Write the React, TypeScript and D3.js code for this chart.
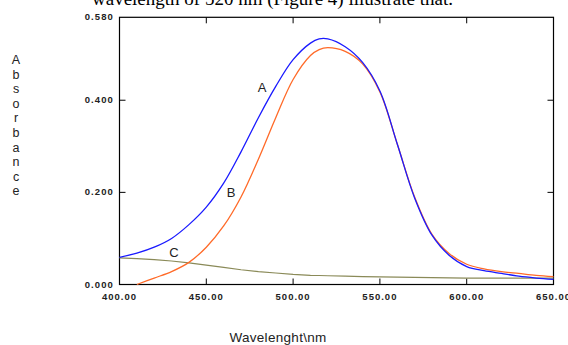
import React from 'react';
import * as d3 from 'd3';

// Spectra (absorbance vs wavelength, nm)
const wavelengths = [400, 410, 420, 430, 440, 450, 460, 470, 480, 490, 500, 510, 515, 520, 530, 540, 550, 560, 570, 580, 590, 600, 610, 620, 630, 640, 650];
const absA = [0.059, 0.068, 0.081, 0.100, 0.130, 0.168, 0.220, 0.288, 0.362, 0.430, 0.488, 0.524, 0.533, 0.533, 0.516, 0.482, 0.420, 0.305, 0.188, 0.107, 0.063, 0.039, 0.030, 0.024, 0.018, 0.014, 0.011];
const absB = [null, 0.0, 0.014, 0.028, 0.048, 0.081, 0.127, 0.190, 0.272, 0.362, 0.445, 0.497, 0.510, 0.514, 0.506, 0.479, 0.418, 0.305, 0.190, 0.109, 0.067, 0.044, 0.034, 0.028, 0.024, 0.020, 0.017];
const absC = [0.058, 0.056, 0.054, 0.051, 0.047, 0.042, 0.037, 0.032, 0.028, 0.025, 0.022, 0.020, 0.0195, 0.019, 0.018, 0.017, 0.0165, 0.016, 0.0155, 0.015, 0.0145, 0.014, 0.014, 0.014, 0.014, 0.014, 0.014];

const xTicks = [400, 450, 500, 550, 600, 650];
const yTicks = [0, 0.2, 0.4, 0.58];
const yTitle = 'Absorbance';

export default function App() {
  const width = 568;
  const height = 345;
  const left = 119.5, right = 553.5, top = 17.3, bottom = 284.5;

  const x = d3.scaleLinear().domain([400, 650]).range([left, right]);
  const y = d3.scaleLinear().domain([0, 0.58]).range([bottom, top]);

  const makeLine = (vals, curve) => {
    const pts = wavelengths.map((w, i) => [w, vals[i]]).filter(p => p[1] !== null);
    return d3.line().x(d => x(d[0])).y(d => y(d[1])).curve(curve)(pts);
  };

  const sans = 'Arial, "Liberation Sans", sans-serif';

  return (
    <svg width={width} height={height} style={{ position: 'absolute', left: 0, top: 0, background: '#fff' }}>
      {/* clipped text line from the surrounding document */}
      <text x={92} y={5} fontFamily='"Times New Roman", "Liberation Serif", serif' fontSize={19} fill="#000">
        wavelength of 520 nm (Figure 4) illustrate that.
      </text>

      {/* frame */}
      <rect x={left} y={top} width={right - left} height={bottom - top} fill="none" stroke="#000" strokeWidth={1.2} />

      {/* ticks, pointing inward on all four sides */}
      {xTicks.slice(1, -1).map(t => (
        <g key={'xt' + t}>
          <line x1={x(t)} x2={x(t)} y1={bottom} y2={bottom - 6} stroke="#000" strokeWidth={1} />
          <line x1={x(t)} x2={x(t)} y1={top} y2={top + 6} stroke="#000" strokeWidth={1} />
        </g>
      ))}
      {yTicks.slice(1, -1).map(t => (
        <g key={'yt' + t}>
          <line x1={left} x2={left + 6} y1={y(t)} y2={y(t)} stroke="#000" strokeWidth={1} />
          <line x1={right} x2={right - 6} y1={y(t)} y2={y(t)} stroke="#000" strokeWidth={1} />
        </g>
      ))}

      {/* tick labels */}
      {xTicks.map(t => (
        <text key={'xl' + t} x={x(t)} y={300} textAnchor="middle" fontFamily={sans} fontSize={9.5} fontWeight="bold" letterSpacing={1} fill="#222">
          {t.toFixed(2)}
        </text>
      ))}
      {yTicks.map(t => (
        <text key={'yl' + t} x={114} y={y(t) + 3} textAnchor="end" fontFamily={sans} fontSize={9.5} fontWeight="bold" letterSpacing={1.1} fill="#222">
          {t.toFixed(3)}
        </text>
      ))}

      {/* curves */}
      <path d={makeLine(absC, d3.curveLinear)} fill="none" stroke="#8a8a58" strokeWidth={1.2} />
      <path d={makeLine(absB, d3.curveCatmullRom)} fill="none" stroke="#ff6a28" strokeWidth={1.3} />
      <path d={makeLine(absA, d3.curveCatmullRom)} fill="none" stroke="#1a1aff" strokeWidth={1.3} />

      {/* curve labels */}
      <text x={262} y={92} textAnchor="middle" fontFamily={sans} fontSize={13} fill="#222">A</text>
      <text x={231} y={197} textAnchor="middle" fontFamily={sans} fontSize={13} fill="#222">B</text>
      <text x={174} y={257} textAnchor="middle" fontFamily={sans} fontSize={13} fill="#222">C</text>

      {/* axis titles */}
      {yTitle.split('').map((ch, i) => (
        <text key={'yt' + i} x={16} y={64 + i * 14.6} textAnchor="middle" fontFamily={sans} fontSize={12.5} fill="#222">{ch}</text>
      ))}
      <text x={278} y={342} textAnchor="middle" fontFamily={sans} fontSize={13.5} letterSpacing={0.3} fill="#222">Wavelenght\nm</text>
    </svg>
  );
}
